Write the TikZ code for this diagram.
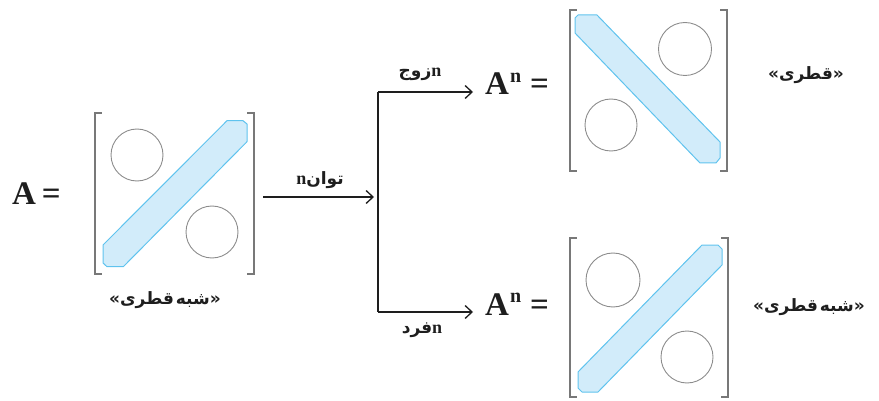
\documentclass[tikz,border=0pt]{standalone}
\usepackage{fontspec}
\usetikzlibrary{arrows.meta,calc}
\newfontfamily\fa[Script=Arabic]{DejaVu Sans}
\newfontfamily\faq{DejaVu Sans}
\newfontfamily\lat{Liberation Serif}
\TeXXeTstate=1
\definecolor{stripefill}{RGB}{210,236,250}
\definecolor{stripeline}{RGB}{95,195,238}
\definecolor{brk}{RGB}{120,120,120}
\definecolor{circ}{RGB}{140,140,140}
\definecolor{ink}{RGB}{30,30,30}
\newcommand\supn{\raisebox{12.5pt}{\fontsize{20}{22}\selectfont n}}
\newcommand\lblN{{\lat\bfseries\fontsize{18}{20}\selectfont n}}
\newcommand\qopen{{\faq\bfseries «}}
\newcommand\qclose{{\faq\bfseries »}}
\begin{document}
\begin{tikzpicture}[x=1pt,y=-1pt,
  bracket/.style={draw=brk, line width=2pt},
  stripe/.style={fill=stripefill, draw=stripeline, line width=1pt, line join=round},
  ring/.style={draw=circ, line width=0.9pt},
  eq/.style={font=\lat\bfseries\fontsize{33}{36}\selectfont, inner sep=0pt, text=ink, anchor=base west},
  fatext/.style={font=\fa\bfseries\fontsize{17}{19}\selectfont, inner sep=0pt, text=ink},
  conn/.style={draw=ink, line width=1.3pt},
  arr/.style={conn, -{Straight Barb[length=7pt,width=13pt,line width=1.3pt]}}
]
\useasboundingbox (0,0) rectangle (879,401);

% matrices (invisible frames)
\node[minimum width=159pt, minimum height=161pt, inner sep=0pt] (m1) at (174.5,193.5) {};
\node[minimum width=157pt, minimum height=161pt, inner sep=0pt] (m2) at (648.5,90.5) {};
\node[minimum width=158pt, minimum height=159pt, inner sep=0pt] (m3) at (649,317.5) {};

% stripes
\draw[stripe] (103,245) -- (227,120.7) -- (243,120.7) -- (247,124) -- (247,141.7) -- (123.3,266.7) -- (107,266.7) -- (103,263) -- cycle;
\draw[stripe] (575,33) -- (575,18) -- (578,15) -- (597,15) -- (720,142) -- (720,158) -- (716,163) -- (700,163) -- cycle;
\draw[stripe] (578,372) -- (702,245) -- (718,245) -- (722,249) -- (722,265) -- (598,392) -- (582,392) -- (578,388) -- cycle;

% circles
\draw[ring] (137,155) circle[radius=26pt];
\draw[ring] (212,232) circle[radius=26pt];
\draw[ring] (685,49) circle[radius=26.5pt];
\draw[ring] (611,125) circle[radius=26pt];
\draw[ring] (613,280) circle[radius=27pt];
\draw[ring] (687,357) circle[radius=26pt];

% brackets
\foreach \m in {m1,m2,m3}{
  \draw[bracket] ([xshift=7pt]\m.north west) -- (\m.north west) -- (\m.south west) -- ([xshift=7pt]\m.south west);
  \draw[bracket] ([xshift=-7pt]\m.north east) -- (\m.north east) -- (\m.south east) -- ([xshift=-7pt]\m.south east);
}

% equations
\node[eq] (A) at (12,205) {A\hspace{6pt}=};
\node[eq] (An1) at (485,95) {A\hspace{1pt}\supn\hspace{9pt}=};
\node[eq] (An2) at (485,315) {A\hspace{1pt}\supn\hspace{9pt}=};

% connectors
\coordinate (jt) at (378,92);
\coordinate (jm) at (378,197);
\coordinate (jb) at (378,312);
\coordinate (t1) at (473,92);
\coordinate (t2) at (473,312);
\draw[arr, shorten >=4pt] ($(m1.east |- jm)+(9,0)$) -- (jm);
\draw[conn] (jt) -- (jb);
\draw[draw=ink, line width=2.4pt] (378,237) -- (378,272);
\draw[arr] (jt) -- (t1);
\draw[arr] (jb) -- (t2);

% arrow labels
\node[fatext, anchor=base] (lp) at (320,185) {\beginR توان\lblN\endR};
\node[fatext, anchor=base] (le) at (420,77) {\beginR\lblN زوج\endR};
\node[fatext, anchor=base] (lo) at (422,333) {\beginR\lblN فرد\endR};

% matrix captions
\node[fatext] (c1) at (165,300) {\qopen\beginR شبه\hspace{2pt}قطری\endR\qclose};
\node[fatext] (c2) at (806,75) {\qopen\beginR قطری\endR\qclose};
\node[fatext] (c3) at (809,307) {\qopen\beginR شبه\hspace{2pt}قطری\endR\qclose};
\end{tikzpicture}
\end{document}
